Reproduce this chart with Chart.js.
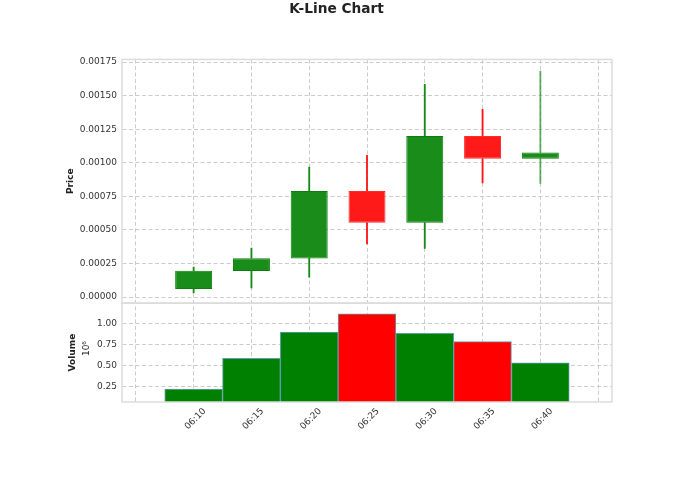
<!DOCTYPE html>
<html>
<head>
<meta charset="utf-8">
<script src="https://cdn.jsdelivr.net/npm/chart.js@4/dist/chart.umd.min.js"></script>
<style>
html,body{margin:0;padding:0;background:#fff;}
#wrap{width:680px;height:489px;}
</style>
</head>
<body>
<div id="wrap"><canvas id="c" width="680" height="489"></canvas></div>
<script>
const categories = ['06:10','06:15','06:20','06:25','06:30','06:35','06:40'];
const openPrices  = [0.000060, 0.000194, 0.000288, 0.000790, 0.000553, 0.001200, 0.001030];
const closePrices = [0.000197, 0.000290, 0.000790, 0.000553, 0.001200, 0.001030, 0.001077];
const highPrices  = [0.000223, 0.000365, 0.000968, 0.001055, 0.001584, 0.001398, 0.001683];
const lowPrices   = [0.000032, 0.000069, 0.000149, 0.000397, 0.000363, 0.000851, 0.000847];
const volumes     = [214000, 583000, 899000, 1120000, 883000, 784000, 531000];
const priceTicks  = [0, 0.00025, 0.0005, 0.00075, 0.001, 0.00125, 0.0015, 0.00175];
const volumeTicks = [250000, 500000, 750000, 1000000];

const up = categories.map((_, i) => closePrices[i] >= openPrices[i]);
const bodyFill = up.map(u => u ? '#198c19' : '#ff1a1a');
const bodyEdge = up.map(u => u ? '#0b7d0b' : '#ff2a2a');
const wickColor = up.map((u, i) => u ? (i === categories.length - 1 ? 'rgba(0,128,0,0.6)' : 'rgba(0,128,0,0.9)') : 'rgba(255,0,0,0.9)');
const volFill = up.map(u => u ? '#008000' : '#ff0000');

const xTickValues = [];
for (let v = -1; v <= categories.length; v++) xTickValues.push(v);

const gridStyle = { color: '#cccccc', lineWidth: 1, drawTicks: false, offset: false };
const borderStyle = { display: true, width: 0.01, color: 'rgba(0,0,0,0)', dash: [4, 2.5] };
const tickFont = { family: 'DejaVu Sans', size: 9 };

const framePlugin = {
  id: 'frame',
  afterDraw(chart) {
    const ctx = chart.ctx;
    const a = chart.chartArea;
    ctx.save();
    ctx.strokeStyle = '#dcdcdc';
    ctx.lineWidth = 1.5;
    ['yPrice', 'yVol'].forEach(id => {
      const s = chart.scales[id];
      ctx.strokeRect(a.left, s.top, a.right - a.left, s.bottom - s.top);
    });
    const v = chart.scales.yVol;
    ctx.fillStyle = '#222';
    ctx.font = '9px DejaVu Sans';
    ctx.translate(v.left + 26, (v.top + v.bottom) / 2 - 4);
    ctx.rotate(-Math.PI / 2);
    ctx.textAlign = 'center';
    ctx.textBaseline = 'middle';
    ctx.fillText('10\u2076', 0, 0);
    ctx.restore();
  }
};

const wickBase = {
  backgroundColor: wickColor,
  borderWidth: 0,
  barThickness: 1.2,
  grouped: false,
  yAxisID: 'yPrice',
  order: 2
};

new Chart(document.getElementById('c'), {
  type: 'bar',
  data: {
    datasets: [
      Object.assign({
        label: 'upper wick',
        data: categories.map((_, i) => ({ x: i, y: [Math.max(openPrices[i], closePrices[i]), highPrices[i]] }))
      }, wickBase),
      Object.assign({
        label: 'lower wick',
        data: categories.map((_, i) => ({ x: i, y: [lowPrices[i], Math.min(openPrices[i], closePrices[i])] }))
      }, wickBase),
      {
        label: 'body',
        data: categories.map((_, i) => ({ x: i, y: [openPrices[i], closePrices[i]] })),
        backgroundColor: bodyFill,
        borderColor: bodyEdge,
        borderWidth: 1,
        borderSkipped: false,
        barPercentage: 0.64,
        categoryPercentage: 1,
        grouped: false,
        yAxisID: 'yPrice',
        order: 1
      },
      {
        label: 'volume',
        data: categories.map((_, i) => ({ x: i, y: volumes[i] })),
        backgroundColor: volFill,
        borderColor: '#5f9fae',
        borderWidth: 1,
        borderSkipped: false,
        barPercentage: 1,
        categoryPercentage: 1,
        grouped: false,
        yAxisID: 'yVol',
        order: 3
      }
    ]
  },
  options: {
    responsive: false,
    animation: false,
    devicePixelRatio: 1,
    layout: { padding: { left: 61, right: 68, top: 0, bottom: 0 } },
    plugins: {
      legend: { display: false },
      tooltip: { enabled: false },
      title: {
        display: true,
        text: 'K-Line Chart',
        color: '#222',
        font: { family: 'DejaVu Sans', size: 13.7, weight: 'bold' },
        padding: { top: 1, bottom: 42 }
      }
    },
    scales: {
      x: {
        type: 'linear',
        offset: false,
        min: -1.24,
        max: categories.length + 0.24,
        afterBuildTicks: s => { s.ticks = xTickValues.map(v => ({ value: v })); },
        afterFit: s => { s.height = 87; },
        grid: gridStyle,
        border: borderStyle,
        ticks: {
          autoSkip: false,
          maxRotation: 45,
          minRotation: 45,
          labelOffset: 11,
          padding: 4,
          color: '#333',
          font: tickFont,
          callback: v => (v >= 0 && v < categories.length) ? categories[v] : ''
        }
      },
      yVol: {
        type: 'linear',
        position: 'left',
        stack: 'panels',
        stackWeight: 99,
        min: 60000,
        max: 1247000,
        afterBuildTicks: s => { s.ticks = volumeTicks.map(v => ({ value: v })); },
        afterFit: s => { s.width = 61; },
        grid: gridStyle,
        border: borderStyle,
        ticks: { color: '#333', font: tickFont, padding: 5, callback: v => (v / 1e6).toFixed(2) },
        title: { display: true, text: 'Volume', color: '#222', font: { family: 'DejaVu Sans', size: 9, weight: 'bold' }, padding: { top: 6, bottom: 0 } }
      },
      yPrice: {
        type: 'linear',
        position: 'left',
        stack: 'panels',
        stackWeight: 244,
        min: -0.0000447,
        max: 0.00177,
        afterBuildTicks: s => { s.ticks = priceTicks.map(v => ({ value: v })); },
        afterFit: s => { s.width = 61; },
        grid: gridStyle,
        border: borderStyle,
        ticks: { color: '#333', font: tickFont, padding: 5, callback: v => v.toFixed(5) },
        title: { display: true, text: 'Price', color: '#222', font: { family: 'DejaVu Sans', size: 9, weight: 'bold' }, padding: { top: 4, bottom: 0 } }
      }
    }
  },
  plugins: [framePlugin]
});
</script>
</body>
</html>
